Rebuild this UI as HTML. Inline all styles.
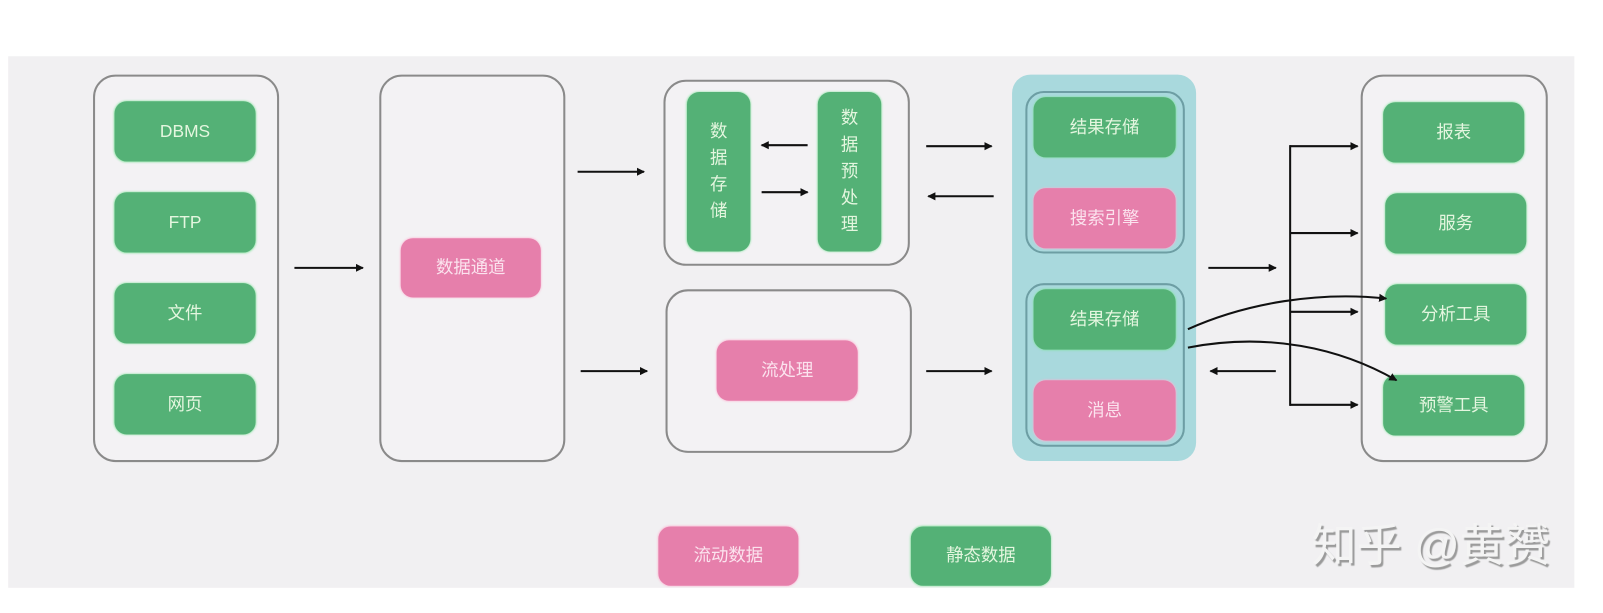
<!DOCTYPE html>
<html><head><meta charset="utf-8"><style>
html,body{margin:0;padding:0;background:#fff;width:1603px;height:613px;overflow:hidden;position:relative;font-family:"Liberation Sans","Noto Sans CJK SC",sans-serif}
#w{position:absolute;left:0;top:0;width:1568px;height:600px;transform:scale(1.0223);transform-origin:0 0}
.a{position:absolute;box-sizing:border-box}
.panel{left:8px;top:55px;width:1532px;height:520px;background:#f1f0f2}
.box{border:2px solid #8a8a8a;border-radius:22px;background:#f3f2f4}
.g,.p{border-radius:12px;display:flex;align-items:center;justify-content:center;font-size:17px;text-align:center;line-height:26px}
.g{background:#54b176;color:#e4f6df;box-shadow:0 0 2px #7fe39a}
.p{background:#e67fab;color:#fbe3ee;box-shadow:0 0 2px #ffb0d0}
.teal{background:#a9d9dd;border-radius:18px}
.grp{border:2px solid #6d9ea4;border-radius:18px}
</style></head><body><div id="w">
<div class="a panel"></div>

<div class="a box" style="left:91px;top:73px;width:182px;height:379px"></div>
<div class="a g" style="left:112px;top:99px;width:138px;height:59px">DBMS</div>
<div class="a g" style="left:112px;top:188px;width:138px;height:59px">FTP</div>
<div class="a g" style="left:112px;top:277px;width:138px;height:59px">文件</div>
<div class="a g" style="left:112px;top:366px;width:138px;height:59px">网页</div>

<div class="a box" style="left:371px;top:73px;width:182px;height:379px"></div>
<div class="a p" style="left:392px;top:233px;width:137px;height:58px">数据通道</div>

<div class="a box" style="left:649px;top:78px;width:241px;height:182px"></div>
<div class="a g" style="left:672px;top:90px;width:62px;height:156px;line-height:26px">数<br>据<br>存<br>储</div>
<div class="a g" style="left:800px;top:90px;width:62px;height:156px;line-height:26px">数<br>据<br>预<br>处<br>理</div>

<div class="a box" style="left:651px;top:283px;width:241px;height:160px"></div>
<div class="a p" style="left:701px;top:333px;width:138px;height:59px">流处理</div>

<div class="a teal" style="left:990px;top:73px;width:180px;height:378px"></div>
<div class="a grp" style="left:1003px;top:89px;width:156px;height:159px"></div>
<div class="a grp" style="left:1003px;top:277px;width:156px;height:160px"></div>
<div class="a g" style="left:1011px;top:95px;width:139px;height:59px">结果存储</div>
<div class="a p" style="left:1011px;top:184px;width:139px;height:59px">搜索引擎</div>
<div class="a g" style="left:1011px;top:283px;width:139px;height:59px">结果存储</div>
<div class="a p" style="left:1011px;top:372px;width:139px;height:59px">消息</div>

<div class="a box" style="left:1331px;top:73px;width:183px;height:379px"></div>
<div class="a g" style="left:1353px;top:100px;width:138px;height:59px">报表</div>
<div class="a g" style="left:1355px;top:189px;width:138px;height:59px">服务</div>
<div class="a g" style="left:1355px;top:278px;width:138px;height:59px">分析工具</div>
<div class="a g" style="left:1353px;top:367px;width:138px;height:59px">预警工具</div>

<div class="a p" style="left:644px;top:515px;width:137px;height:58px">流动数据</div>
<div class="a g" style="left:891px;top:515px;width:137px;height:58px">静态数据</div>

<div class="a" style="left:1283px;top:505px;font-size:44px;color:#f4f4f4;text-shadow:2px 2px 1px #9a9a9a;white-space:nowrap;line-height:60px">知乎 @黄赟</div>

<svg class="a" style="left:0;top:0" width="1568" height="600">
<defs><marker id="m" markerWidth="8" markerHeight="8" refX="7" refY="4" orient="auto" markerUnits="userSpaceOnUse"><path d="M0,0 L8,4 L0,8 z" fill="#111"/></marker></defs>
<g stroke="#111" stroke-width="2" fill="none" marker-end="url(#m)">
<line x1="288" y1="262" x2="355" y2="262"/>
<line x1="565" y1="168" x2="630" y2="168"/>
<line x1="568" y1="363" x2="633" y2="363"/>
<line x1="790" y1="142" x2="745" y2="142"/>
<line x1="745" y1="188" x2="790" y2="188"/>
<line x1="906" y1="143" x2="970" y2="143"/>
<line x1="972" y1="192" x2="908" y2="192"/>
<line x1="906" y1="363" x2="970" y2="363"/>
<line x1="1182" y1="262" x2="1248" y2="262"/>
<line x1="1248" y1="363" x2="1184" y2="363"/>
<line x1="1262" y1="143" x2="1328" y2="143"/>
<line x1="1262" y1="228" x2="1328" y2="228"/>
<line x1="1262" y1="305" x2="1328" y2="305"/>
<line x1="1262" y1="396" x2="1328" y2="396"/>
<path d="M1162,322 C1220,296 1290,285 1356,292"/>
<path d="M1162,340 C1240,325 1310,340 1366,372"/>
</g>
<line x1="1262" y1="142" x2="1262" y2="397" stroke="#111" stroke-width="2"/>
</svg>
</div></body></html>
